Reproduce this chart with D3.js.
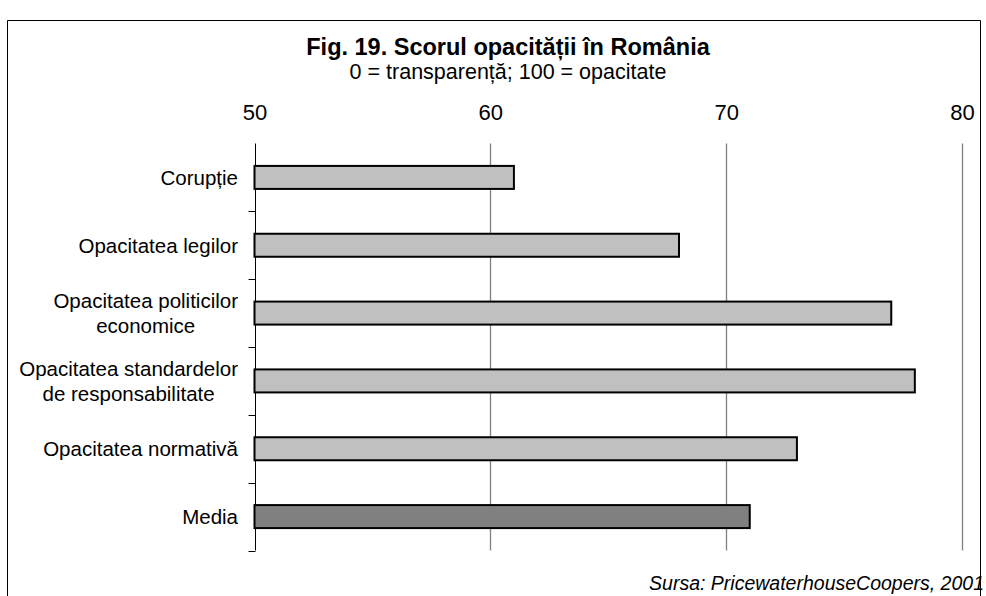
<!DOCTYPE html>
<html>
<head>
<meta charset="utf-8">
<script src="https://cdn.jsdelivr.net/npm/d3@7"></script>
<style>
  body { margin: 0; background: #fff; }
  text { font-family: "Liberation Sans", Arial, sans-serif; fill: #000; }
</style>
</head>
<body>
<script>
// date
var categories = [
  ["Corupție"],
  ["Opacitatea legilor"],
  ["Opacitatea politicilor", "economice"],
  ["Opacitatea standardelor", "de responsabilitate"],
  ["Opacitatea normativă"],
  ["Media"]
];
var scores = [61, 68, 77, 78, 73, 71];
var tickValues = [50, 60, 70, 80];

var W = 986, H = 596;
var svg = d3.select("body").append("svg").attr("width", W).attr("height", H);

// chenar
svg.append("path")
  .attr("d", "M7.5,596 V20.5 H980.5 V596")
  .attr("fill", "none")
  .attr("stroke", "#000")
  .attr("stroke-width", 1);

svg.append("text")
  .attr("x", 508).attr("y", 55)
  .attr("text-anchor", "middle")
  .style("font-size", "23.5px").style("font-weight", "bold")
  .text("Fig. 19. Scorul opacității în România");
svg.append("text")
  .attr("x", 508).attr("y", 79)
  .attr("text-anchor", "middle")
  .style("font-size", "21.5px")
  .text("0 = transparență; 100 = opacitate");

var x = d3.scaleLinear().domain([50, 80]).range([254.5, 962]);
var y = d3.scaleBand().domain(d3.range(categories.length)).range([143.5, 550.5]);

// grila
svg.selectAll(".grid")
  .data(tickValues.slice(1))
  .enter().append("line")
  .attr("x1", d => Math.round(x(d)) + 0.5).attr("x2", d => Math.round(x(d)) + 0.5)
  .attr("y1", y.range()[0]).attr("y2", y.range()[1])
  .attr("stroke", "#808080").attr("stroke-width", 1.3);

// axa de sus
var xAxis = svg.append("g")
  .attr("transform", "translate(0,120)")
  .call(d3.axisTop(x).tickValues(tickValues).tickSize(0).tickPadding(0));
xAxis.select(".domain").remove();
xAxis.selectAll("text").style("font-size", "22px").style("font-family", "Liberation Sans, Arial, sans-serif");

// axa din stanga
var ax = Math.round(x(50)) + 0.5;
svg.append("line")
  .attr("x1", ax).attr("x2", ax)
  .attr("y1", y.range()[0]).attr("y2", y.range()[1])
  .attr("stroke", "#000").attr("stroke-width", 1);
var bounds = d3.range(categories.length + 1).map(i => y.range()[0] + i * y.step());
svg.selectAll(".tk")
  .data(bounds.slice(1))
  .enter().append("line")
  .attr("x1", ax - 7).attr("x2", ax)
  .attr("y1", d => Math.round(d) + 0.5).attr("y2", d => Math.round(d) + 0.5)
  .attr("stroke", "#000");

// bare
var barH = 23;
svg.selectAll(".bar")
  .data(scores)
  .enter().append("rect")
  .attr("x", x(50))
  .attr("y", (d, i) => y(i) + y.bandwidth() / 2 - barH / 2)
  .attr("width", d => x(d) - x(50))
  .attr("height", barH)
  .attr("fill", (d, i) => i == scores.length - 1 ? "#808080" : "#c0c0c0")
  .attr("stroke", "#000")
  .attr("stroke-width", 2);

// etichete categorii
var lineH = 25;
categories.forEach(function(lines, i) {
  var cy = y(i) + y.bandwidth() / 2;
  var g = svg.append("text")
    .attr("text-anchor", "middle")
    .style("font-size", "20.5px");
  lines.forEach(function(l, j) {
    g.append("tspan")
      .attr("y", cy + 7.5 + (j - (lines.length - 1) / 2) * lineH)
      .text(l);
  });
  // bloc aliniat la dreapta, randuri centrate
  var wMax = d3.max(g.selectAll("tspan").nodes(), n => n.getComputedTextLength());
  g.selectAll("tspan").attr("x", 238 - wMax / 2);
});

svg.append("text")
  .attr("x", 984).attr("y", 590)
  .attr("text-anchor", "end")
  .style("font-size", "19.5px").style("font-style", "italic")
  .text("Sursa: PricewaterhouseCoopers, 2001");
</script>
</body>
</html>
